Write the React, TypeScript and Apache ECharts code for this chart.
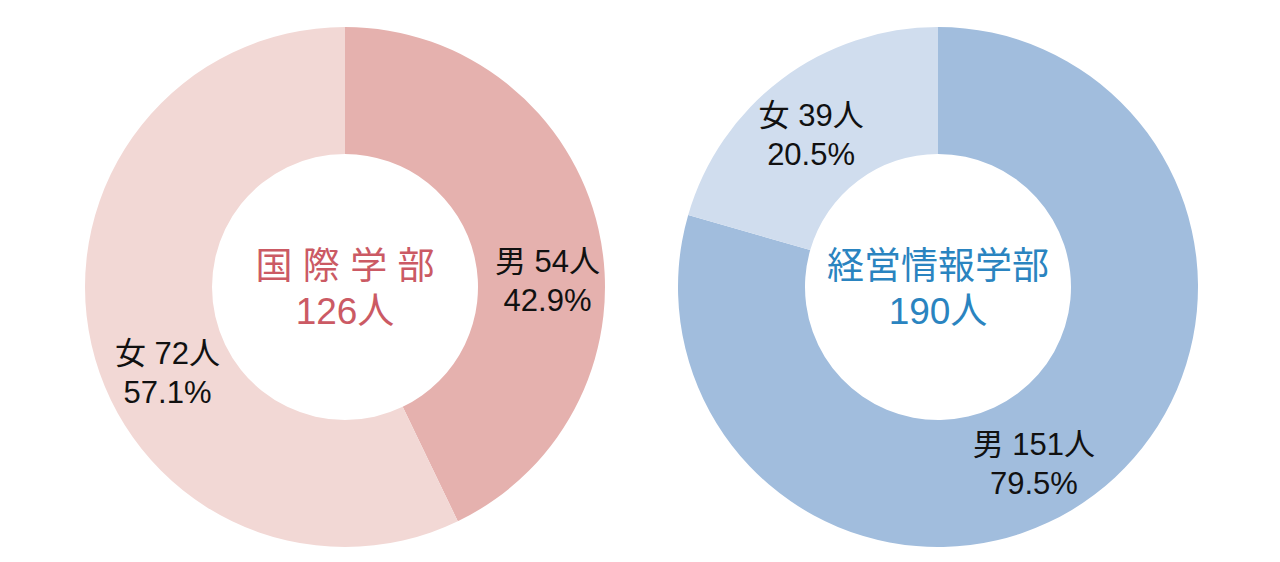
import React, { useEffect, useRef } from "react";
import * as echarts from "echarts";

const departments = ["国 際 学 部", "経営情報学部"];
const totals = [126, 190];
const genders = ["男", "女"];
const intlValues = [54, 72];
const intlPercents = ["42.9%", "57.1%"];
const mgmtValues = [151, 39];
const mgmtPercents = ["79.5%", "20.5%"];

const intlColors = ["#E5B1AE", "#F2D8D5"];
const mgmtColors = ["#A1BDDD", "#D0DDEE"];
const titleColors = ["#CB5A64", "#2A84C0"];

const intlOffsets = [[8, 38], [17, 42]];
const mgmtOffsets = [[-24, 18], [-7, 7]];

const labelFont = "'Liberation Sans', 'Noto Sans CJK JP', sans-serif";

function buildSeries(
  center: string[],
  values: number[],
  percents: string[],
  colors: string[],
  offsets: number[][]
) {
  return {
    type: "pie",
    center,
    radius: [133, 260],
    startAngle: 90,
    clockwise: true,
    silent: true,
    label: {
      show: true,
      position: "inside",
      color: "#111",
      fontSize: 31,
      lineHeight: 39,
      fontFamily: labelFont,
      align: "center",
    },
    labelLine: { show: false },
    emphasis: { disabled: true },
    data: values.map((v, i) => ({
      value: v,
      name: genders[i],
      itemStyle: { color: colors[i] },
      label: {
        formatter: `${genders[i]} ${v}人\n${percents[i]}`,
        offset: offsets[i],
      },
    })),
  };
}

export default function App() {
  const ref = useRef<HTMLDivElement>(null);
  useEffect(() => {
    document.body.style.margin = "0";
    if (!ref.current) return;
    const chart = echarts.init(ref.current, undefined, { renderer: "svg" });
    chart.setOption({
      animation: false,
      backgroundColor: "#ffffff",
      series: [
        buildSeries(["345", "287"], intlValues, intlPercents, intlColors, intlOffsets),
        buildSeries(["938", "287"], mgmtValues, mgmtPercents, mgmtColors, mgmtOffsets),
      ],
      graphic: [
        { x: 345, y: 266, text: departments[0], color: titleColors[0] },
        { x: 345, y: 311, text: `${totals[0]}人`, color: titleColors[0] },
        { x: 938, y: 266, text: departments[1], color: titleColors[1] },
        { x: 938, y: 311, text: `${totals[1]}人`, color: titleColors[1] },
      ].map((t) => ({
        type: "text",
        x: t.x,
        y: t.y,
        silent: true,
        style: {
          text: t.text,
          fill: t.color,
          fontSize: 37,
          fontFamily: labelFont,
          textAlign: "center",
          textVerticalAlign: "middle",
        },
      })),
    });
    return () => chart.dispose();
  }, []);
  return <div ref={ref} style={{ width: 1280, height: 562 }} />;
}
